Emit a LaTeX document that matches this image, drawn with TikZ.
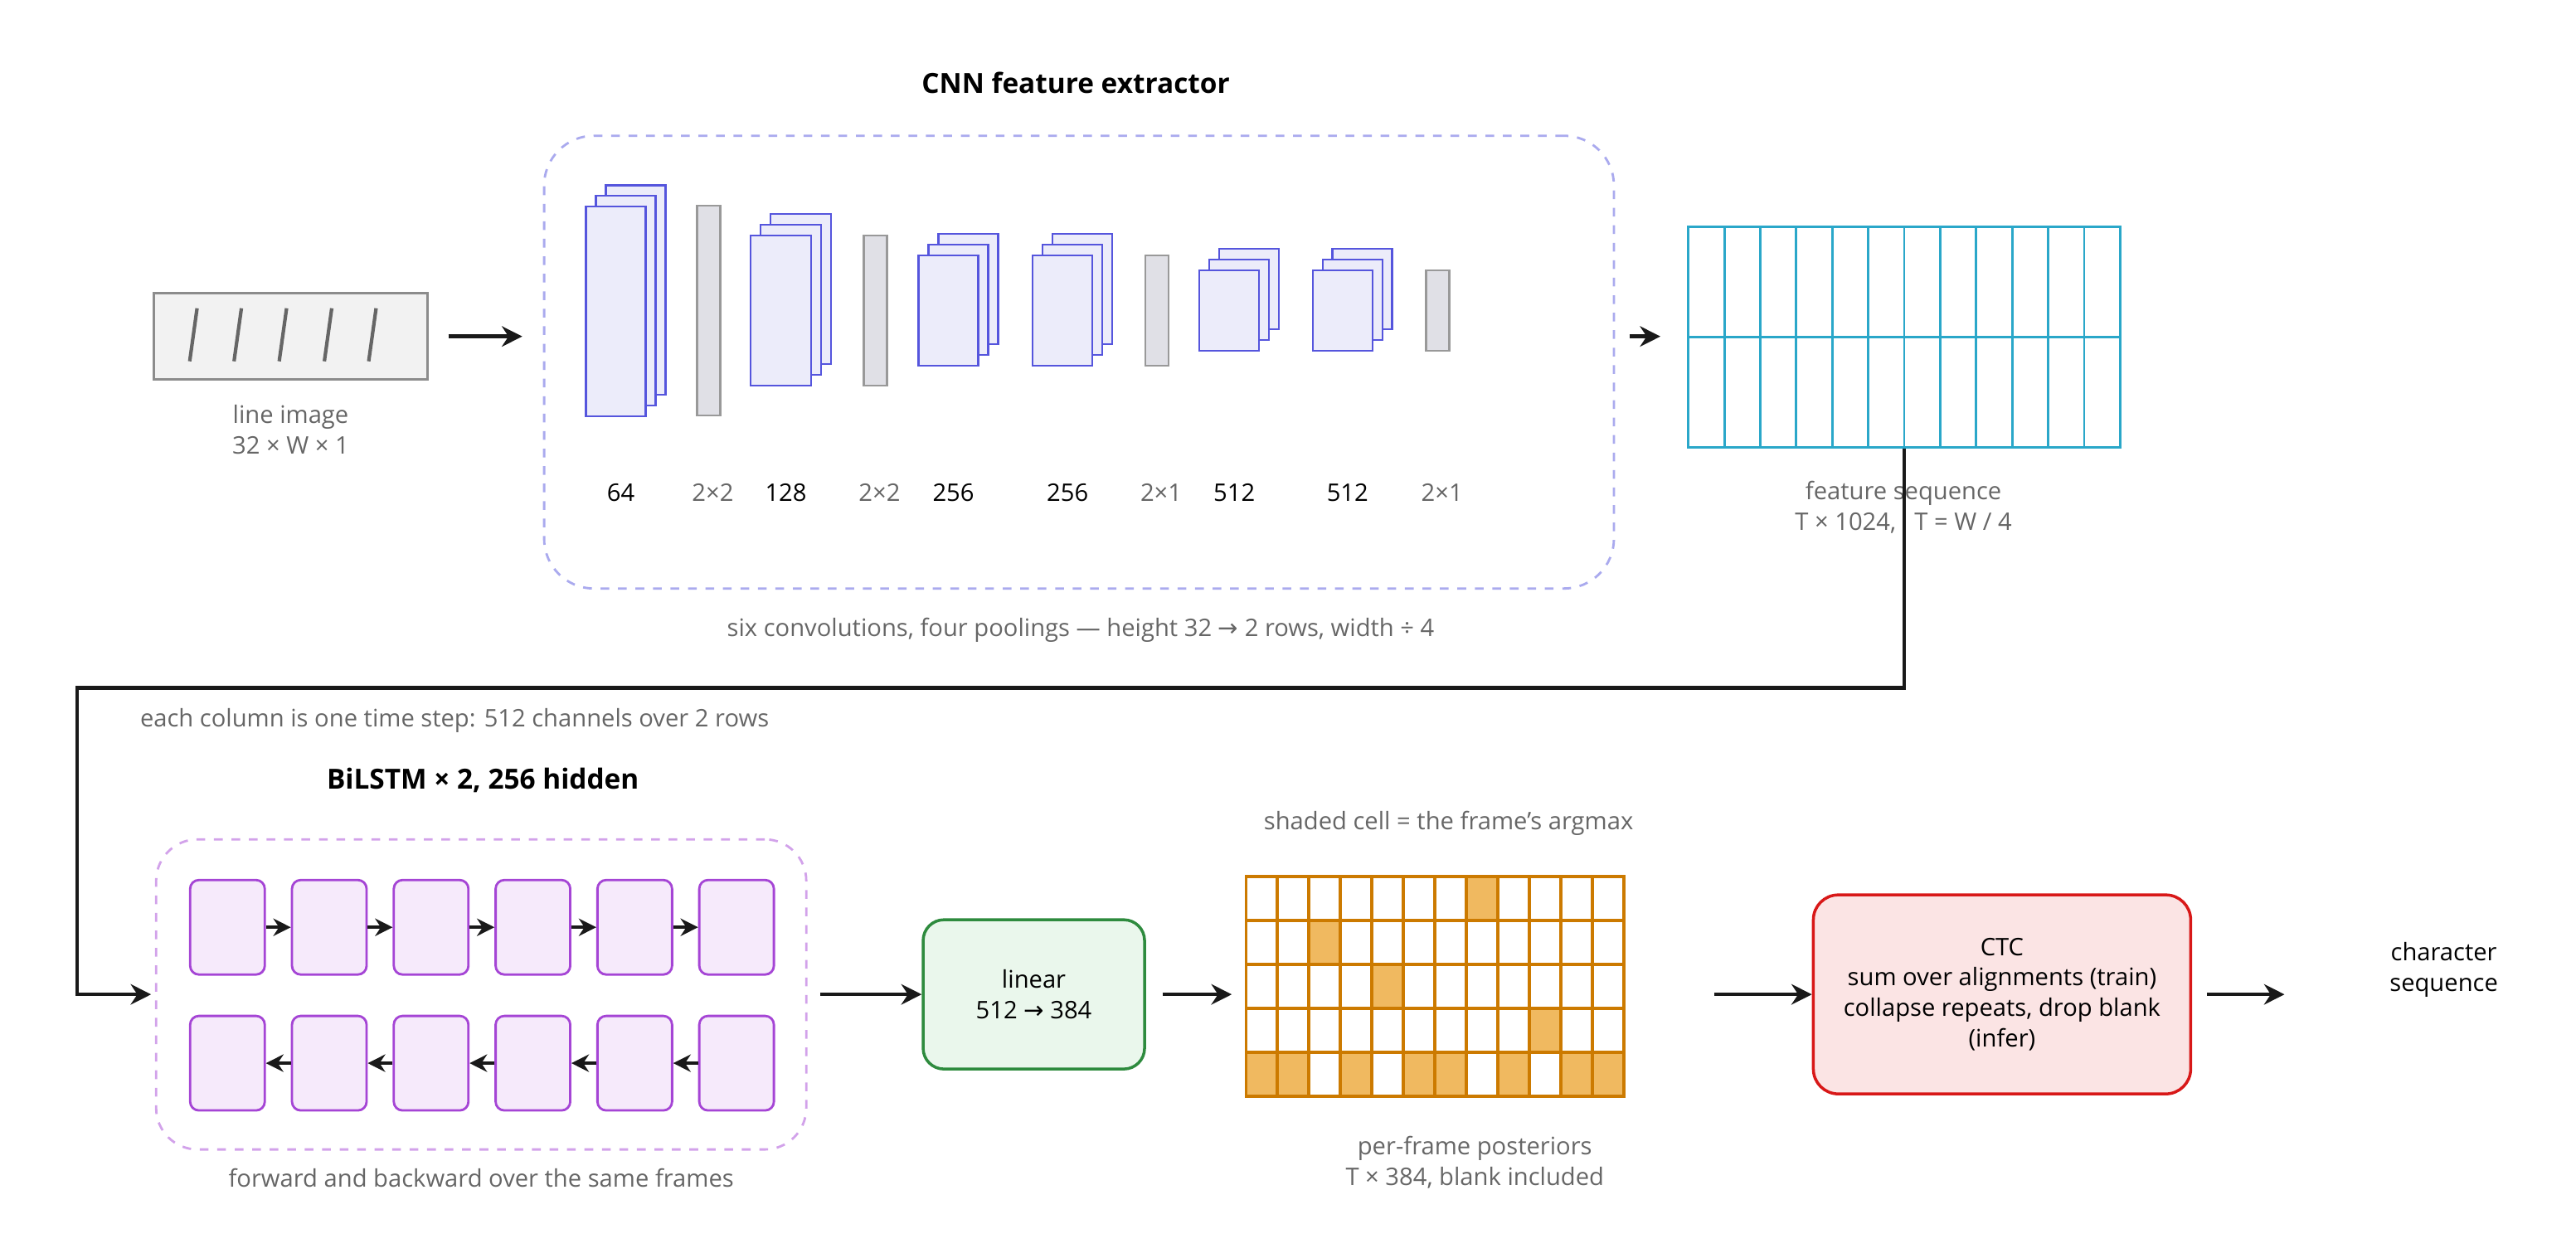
\documentclass[tikz,border=0pt]{standalone}
\usepackage{fontspec}
\setmainfont{Open Sans}
\newfontfamily\symfont{DejaVu Sans}
\newcommand{\rarr}{{\symfont →}}
\usetikzlibrary{arrows.meta}

\definecolor{convline}{HTML}{5555DD}
\definecolor{convfill}{HTML}{ECECFA}
\definecolor{poolfill}{HTML}{E0E0E6}
\definecolor{capgray}{HTML}{666666}
\definecolor{seqcyan}{HTML}{2AA7C9}
\definecolor{lstmline}{HTML}{A545D5}
\definecolor{lstmfill}{HTML}{F6EAFB}
\definecolor{lingreen}{HTML}{2E8B3E}
\definecolor{linfill}{HTML}{EAF7EC}
\definecolor{postline}{HTML}{CC7A00}
\definecolor{postfill}{HTML}{F0B960}
\definecolor{ctcred}{HTML}{D81818}
\definecolor{ctcfill}{HTML}{FBE4E4}

\begin{document}
\begin{tikzpicture}[x=0.0099cm,y=-0.01cm,font=\fontsize{8.3}{10.5}\selectfont]
\tikzstyle{every node}=[inner sep=0pt]
\tikzstyle{conv}=[draw=convline,fill=convfill,line width=0.7pt]
\tikzstyle{pool}=[draw=gray!80,fill=poolfill,line width=0.7pt]
\tikzstyle{caption}=[text=capgray,align=center]
\tikzstyle{flow}=[draw=black!90,line width=1.3pt,-{Stealth[length=7pt,width=7pt]}]
\tikzstyle{cell}=[draw=lstmline,fill=lstmfill,line width=0.8pt,rounded corners=3pt,minimum width=0.9cm,minimum height=1.14cm]
\tikzstyle{rec}=[draw=black!90,line width=1pt,-{Stealth[length=6pt,width=6pt]}]
\useasboundingbox (0,0) rectangle (3137,1512);

% input
\node[draw=gray!90,fill=gray!10,line width=0.8pt,minimum width=3.3cm,minimum height=1.04cm] (img) at (354,406) {};
\foreach \x in {240,294,349,404,458}
  \draw[black!60,line width=1.2pt] (\x,372) -- (\x-9,436);
\node[caption] (imglbl) at (354,518) {line image\\32 × W × 1};

% CNN
\node[draw=convline!50,dashed,line width=0.8pt,rounded corners=0.6cm,minimum width=12.9cm,minimum height=5.46cm] (cnn) at (1314,437) {};
\node[font=\bfseries\fontsize{9.5}{11}\selectfont] (cnntitle) at (1310,100) {CNN feature extractor};
\foreach \n/\x/\y/\w/\h/\lbl in {c1/750/376/0.72/2.53/64,c2/951/375/0.73/1.81/128,c3/1155/375/0.72/1.33/256,c4/1294/375/0.72/1.33/256,c5/1497/375/0.72/0.97/512,c6/1635/375/0.72/0.97/512}{
  \node[conv,minimum width=\w cm,minimum height=\h cm] at (\x+24,\y-26) {};
  \node[conv,minimum width=\w cm,minimum height=\h cm] at (\x+12,\y-13) {};
  \node[conv,minimum width=\w cm,minimum height=\h cm] (\n) at (\x,\y) {};
  \node (\n l) at (\x+6,594) {\lbl};
}
\foreach \n/\x/\h/\lbl in {p1/863/2.53/2×2,p2/1066/1.81/2×2,p3/1409/1.33/2×1,p4/1751/0.97/2×1}{
  \node[pool,minimum width=0.28cm,minimum height=\h cm] (\n) at (\x,375) {};
  \node[caption] (\n l) at (\x+5,594) {\lbl};
}
\node[caption] (cnncap) at (1316,760) {six convolutions, four poolings — height 32 \rarr{} 2 rows, width ÷ 4};

% feature sequence
\node[draw=seqcyan,line width=0.8pt,minimum width=5.21cm,minimum height=2.66cm] (fs) at (2319,407) {};
\foreach \i in {1,...,11}
  \draw[seqcyan,line width=0.8pt] (2056+\i*43.83,274) -- (2056+\i*43.83,540);
\draw[seqcyan,line width=0.8pt] (fs.west) -- (fs.east);
\node[caption] (fslbl) at (2318,612) {feature sequence\\T × 1024, \enspace T = W / 4};

\draw[flow] (img.east) ++(24,0) -- (636,406);
\draw[flow] (cnn.east) ++(18,-31) -- (2022,406);

% bridge
\coordinate (bend) at (94,830);
\draw[flow] (fs.south) |- (bend) |- (184,1200);
\node[caption,anchor=west] (bridgelbl) at (170,870) {each column is one time step: 512 channels over 2 rows};

% BiLSTM
\node[font=\bfseries\fontsize{9.5}{11}\selectfont] (lstmtitle) at (588,942) {BiLSTM × 2, 256 hidden};
\node[draw=lstmline!50,dashed,line width=0.8pt,rounded corners=0.5cm,minimum width=7.84cm,minimum height=3.74cm] (lstm) at (586,1200) {};
\foreach \i in {1,...,6}{
  \node[cell] (f\i) at (277+124*\i-124,1119) {};
  \node[cell] (b\i) at (277+124*\i-124,1283) {};
}
\foreach \i [count=\j from 2] in {1,...,5}{
  \draw[rec] (f\i) -- (f\j);
  \draw[rec] (b\j) -- (b\i);
}
\node[caption] (lstmcap) at (586,1421) {forward and backward over the same frames};

% linear
\node[draw=lingreen,fill=linfill,line width=1pt,rounded corners=0.25cm,minimum width=2.67cm,minimum height=1.8cm,align=center] (lin) at (1259,1200) {linear\\512 \rarr{} 384};
\draw[flow] (lstm.east) ++(16,0) -- (lin.west);

% posteriors
\node[caption] (posttitle) at (1764,994) {shaded cell = the frame's argmax};
\foreach \c/\r in {8/1,3/2,5/3,10/4,1/5,2/5,4/5,6/5,7/5,9/5,11/5,12/5}
  \fill[postfill] (1517+38.4*\c-38.4,1058+53*\r-53) rectangle ++(38.4,53);
\node[draw=postline,line width=1pt,minimum width=4.56cm,minimum height=2.65cm] (post) at (1747.5,1190.5) {};
\foreach \i in {1,...,11}
  \draw[postline,line width=1pt] (1517+\i*38.4,1058) -- (1517+\i*38.4,1323);
\foreach \r in {1,...,4}
  \draw[postline,line width=1pt] (1517,1058+\r*53) -- (1978,1058+\r*53);
\node[caption] (postlbl) at (1796,1403) {per-frame posteriors\\T × 384, blank included};
\draw[flow] (lin.east) ++(20,0) -- (1500,1200);

% CTC
\node[draw=ctcred,fill=ctcfill,line width=1pt,rounded corners=0.3cm,minimum width=4.55cm,minimum height=2.4cm,align=center] (ctc) at (2438,1200) {CTC\\sum over alignments (train)\\collapse repeats, drop blank\\(infer)};
\draw[flow] (post.east |- ctc.west) ++(108,0) -- (ctc.west);
\node[align=center] (out) at (2976,1170) {character\\sequence};
\draw[flow] (ctc.east) ++(18,0) -- (2782,1200);
\end{tikzpicture}
\end{document}
